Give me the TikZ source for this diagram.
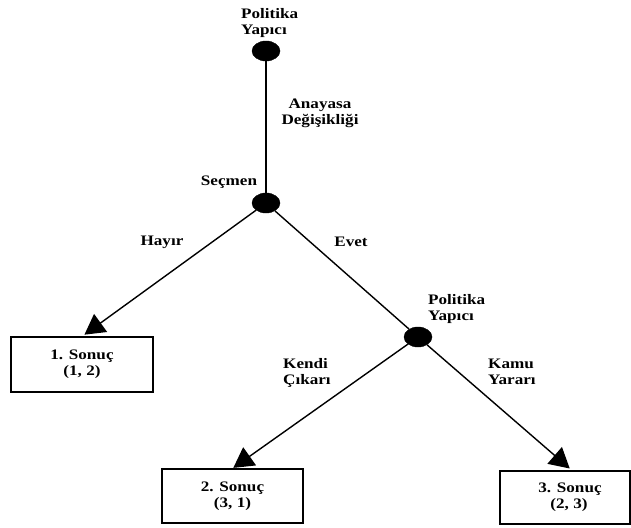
\documentclass[tikz,border=0pt]{standalone}
\usepackage{fontspec}
\setmainfont{Liberation Serif}
\usetikzlibrary{shapes.geometric,arrows.meta,calc}
\begin{document}
\begin{tikzpicture}[x=1pt,y=-1pt,
  lbl/.style={inner sep=0pt,align=left,
    font=\addfontfeature{FakeStretch=1.18}\fontsize{14.5}{16}\selectfont\bfseries},
  lblc/.style={lbl,align=center},
  dot/.style={ellipse,fill=black,draw=black,minimum width=28pt,minimum height=20pt,inner sep=0pt},
  outcome/.style={draw=black,line width=1.1pt,inner sep=0pt,align=center,
    font=\addfontfeature{FakeStretch=1.18}\fontsize{14.5}{16}\selectfont\bfseries},
  edge/.style={line width=1.4pt},
  arr/.style={edge,-{Triangle[length=20pt,width=22pt]}}]
\useasboundingbox (0,0) rectangle (631,527);
\fill[white] (0,0) rectangle (631,527);

% decision nodes
\node[dot] (p1) at (266,51) {};
\node[dot] (v)  at (266,203) {};
\node[dot] (p2) at (418,337) {};

% outcomes
\node[outcome,minimum width=142pt,minimum height=55pt] (o1) at (82,364.5) {1. Sonuç\\(1, 2)};
\node[outcome,minimum width=141pt,minimum height=54pt] (o2) at (232.5,496) {2. Sonuç\\(3, 1)};
\node[outcome,minimum width=130pt,minimum height=53pt] (o3) at (565,497.5) {\hspace*{10pt}3. Sonuç\\\hspace*{8pt}(2, 3)};

% player and move labels
\node[lbl,anchor=west] (t1) at (241,23) {Politika\\Yapıcı};
\node[lblc] (t2) at (320,113) {Anayasa\\Değişikliği};
\node[lbl] (t3) at (229,182) {Seçmen};
\node[lbl] (t4) at (162,242) {Hayır};
\node[lbl] (t5) at (351,242) {Evet};
\node[lbl,anchor=west] (t6) at (428,309) {Politika\\Yapıcı};
\node[lbl,anchor=west] (t7) at (283,373) {Kendi\\Çıkarı};
\node[lbl,anchor=west] (t8) at (488,372) {Kamu\\Yararı};

% branches
\draw[edge] (p1) -- (v);
\draw[edge] (v) -- (p2);
\draw[arr,shorten >=3pt] (v) -- (o1.north);
\draw[arr,shorten >=1pt] (p2) -- (o2.north);
\draw[arr,shorten >=3pt] (p2) -- ($(o3.north)+(7,0)$);
\end{tikzpicture}
\end{document}
